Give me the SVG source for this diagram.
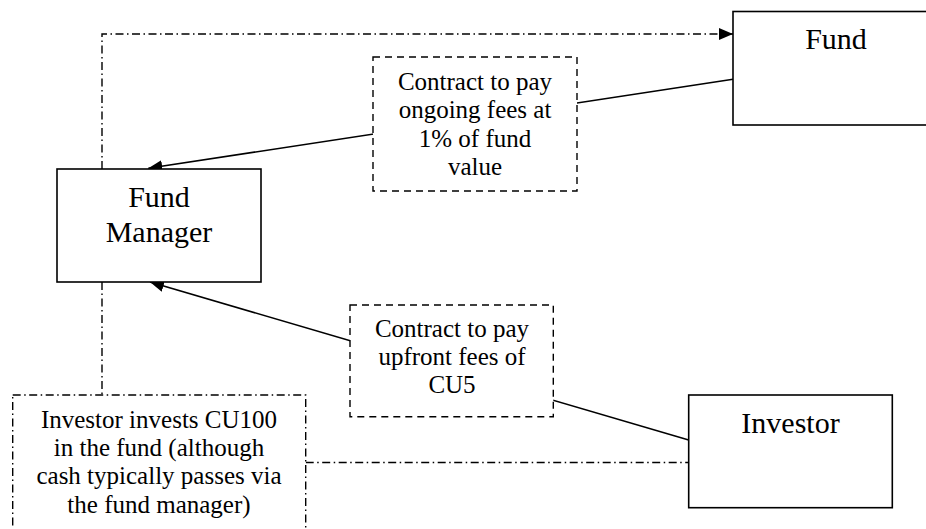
<svg xmlns="http://www.w3.org/2000/svg" width="926" height="529" viewBox="0 0 926 529">
<style>
.bg{fill:#fff}
.node{fill:#fff;stroke:#000;stroke-width:1.6}
.dashbox{fill:#fff;stroke:#000;stroke-width:1.4;stroke-dasharray:7 5}
.dotbox{fill:#fff;stroke:#000;stroke-width:1.4;stroke-dasharray:8 3.5 1.5 3.5}
.conn{fill:none;stroke:#000;stroke-width:1.6}
.dd{fill:none;stroke:#000;stroke-width:1.4;stroke-dasharray:8 3.5 1.5 3.5}
text{fill:#000;text-anchor:middle}
.big{font-size:30px}
.lbl{font-size:25px}
</style>
<defs>
<marker id="arr" markerUnits="userSpaceOnUse" markerWidth="14" markerHeight="12" refX="14" refY="6" orient="auto">
<path d="M0,0 L14,6 L0,12 Z" fill="#000"/>
</marker>
</defs>
<rect class="bg" x="0" y="0" width="926" height="529"/>
<g id="connectors">
<path class="dd" d="M102,169 V34 H733" marker-end="url(#arr)"/>
<path class="conn" d="M733,79.3 L148.3,168.3" marker-end="url(#arr)"/>
<path class="conn" d="M688.7,440 L150,282" marker-end="url(#arr)"/>
<path class="dd" d="M102,282 V395"/>
<path class="dd" d="M305.7,462.5 H688.7"/>
</g>
<g font-family="Liberation Serif, Tinos, DejaVu Serif, serif">
<g id="fund">
<rect class="node" x="733" y="11.5" width="206" height="113.5"/>
<text class="big" x="836" y="49.3">Fund</text>
</g>
<g id="fund-manager">
<rect class="node" x="57" y="169" width="204" height="113"/>
<text class="big" x="159" y="207">Fund</text>
<text class="big" x="159" y="242">Manager</text>
</g>
<g id="investor">
<rect class="node" x="688.7" y="395" width="203.6" height="112.7"/>
<text class="big" x="790.5" y="433.3">Investor</text>
</g>
<g id="ongoing-fees">
<rect class="dashbox" x="373" y="57" width="204" height="134"/>
<text class="lbl" x="475" y="90">Contract to pay</text>
<text class="lbl" x="475" y="118.3">ongoing fees at</text>
<text class="lbl" x="475" y="146.7">1% of fund</text>
<text class="lbl" x="475" y="175">value</text>
</g>
<g id="upfront-fees">
<rect class="dashbox" x="350" y="305" width="203.3" height="111.7"/>
<text class="lbl" x="452" y="336.7">Contract to pay</text>
<text class="lbl" x="452" y="365">upfront fees of</text>
<text class="lbl" x="452" y="393.3">CU5</text>
</g>
<g id="investment-note">
<rect class="dotbox" x="12.7" y="395" width="293" height="160"/>
<text class="lbl" x="159" y="427.6">Investor invests CU100</text>
<text class="lbl" x="159" y="456">in the fund (although</text>
<text class="lbl" x="159" y="484.3">cash typically passes via</text>
<text class="lbl" x="159" y="512.6">the fund manager)</text>
</g>
</g>
</svg>
